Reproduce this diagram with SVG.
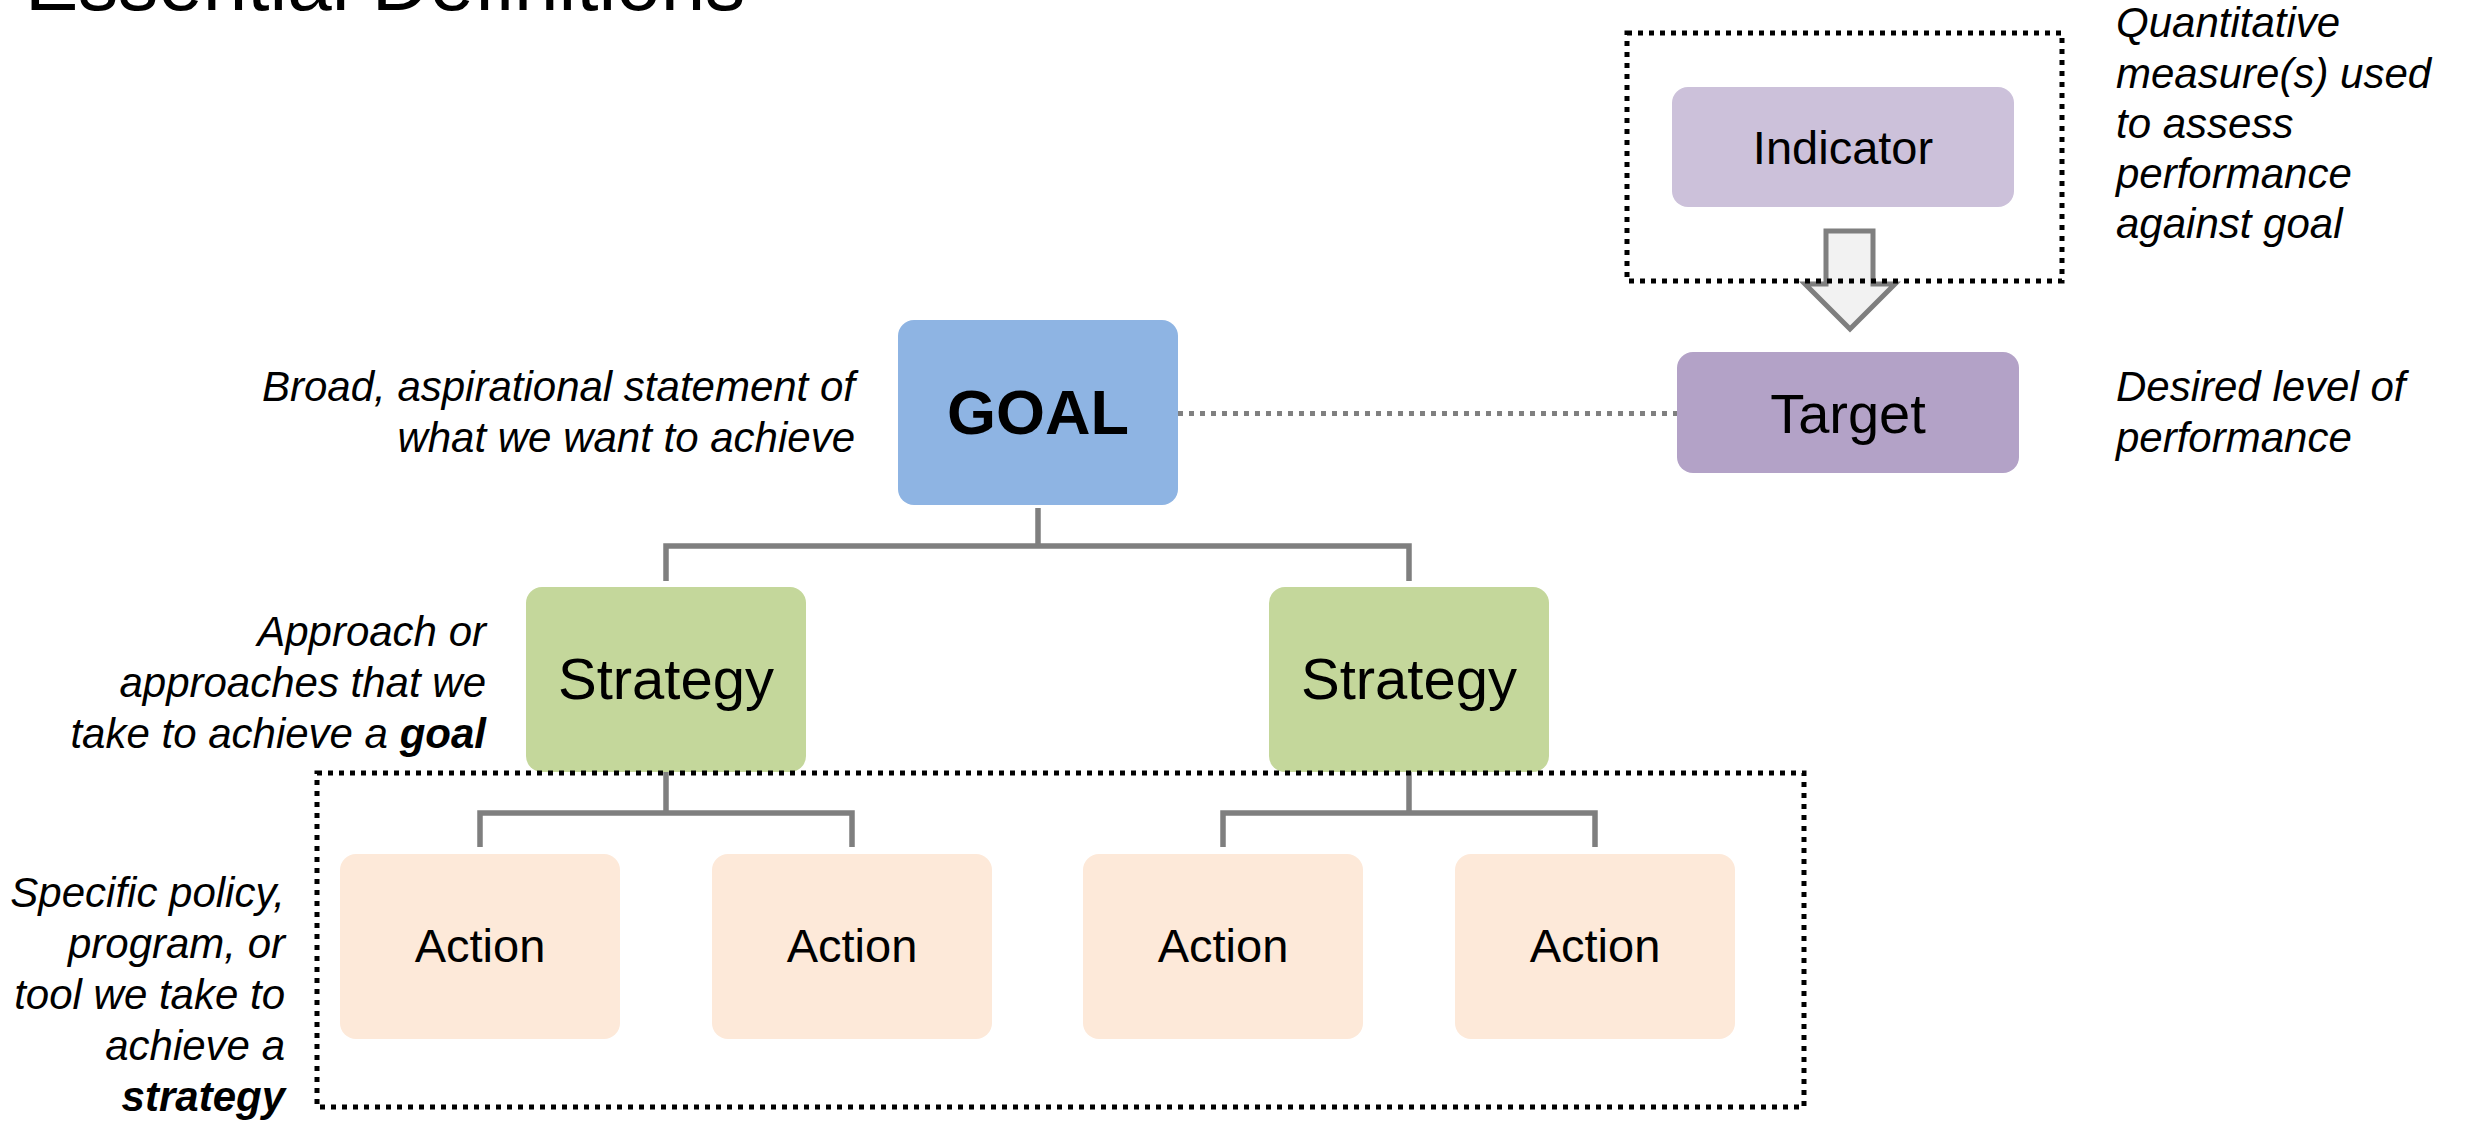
<svg xmlns="http://www.w3.org/2000/svg" width="2469" height="1121" viewBox="0 0 2469 1121">
<style>
text{font-family:"Liberation Sans",Arial,sans-serif;fill:#000}
.desc{font-size:42px;font-style:italic}
.lbl{text-anchor:middle}
.conn{fill:none;stroke:#7F7F7F;stroke-width:5.5}
.dotbox{fill:none;stroke:#000;stroke-width:5;stroke-dasharray:5 6}
</style>
<rect width="2469" height="1121" fill="#fff"/>
<text x="25" y="10" font-size="80">Essential Definitions</text>

<g id="connectors">
<path class="conn" d="M1038,508 V546 M666,581 V546 H1409 V581"/>
<path class="conn" d="M666,772 V813 M480,847 V813 H852 V847"/>
<path class="conn" d="M1409,772 V813 M1223,847 V813 H1595 V847"/>
<line x1="1178" y1="413.5" x2="1677" y2="413.5" stroke="#808080" stroke-width="5" stroke-dasharray="5 6"/>
<path d="M1826,231 H1873 V284 H1895 L1850,329 L1805,284 H1826 Z" fill="#F2F2F2" stroke="#7F7F7F" stroke-width="5"/>
</g>

<g id="goal">
<rect x="898" y="320" width="280" height="185" rx="16" fill="#8EB4E3"/>
<text class="lbl" x="1038" y="434" font-size="63" font-weight="bold">GOAL</text>
</g>
<g id="goal-desc">
<text class="desc" text-anchor="end" x="855" y="401">Broad, aspirational statement of</text>
<text class="desc" text-anchor="end" x="855" y="452">what we want to achieve</text>
</g>

<g id="indicator">
<rect x="1672" y="87" width="342" height="120" rx="16" fill="#CCC1DA"/>
<text class="lbl" x="1843" y="164" font-size="47">Indicator</text>
</g>
<g id="indicator-desc">
<text class="desc" x="2116" y="37">Quantitative</text>
<text class="desc" x="2116" y="87.5">measure(s) used</text>
<text class="desc" x="2116" y="138">to assess</text>
<text class="desc" x="2116" y="188">performance</text>
<text class="desc" x="2116" y="238">against goal</text>
</g>

<g id="target">
<rect x="1677" y="352" width="342" height="121" rx="16" fill="#B3A2C7"/>
<text class="lbl" x="1848" y="433" font-size="56">Target</text>
</g>
<g id="target-desc">
<text class="desc" x="2116" y="401">Desired level of</text>
<text class="desc" x="2116" y="452">performance</text>
</g>

<g id="strategy1">
<rect x="526" y="587" width="280" height="185" rx="16" fill="#C4D79B"/>
<text class="lbl" x="666" y="699" font-size="58">Strategy</text>
</g>
<g id="strategy2">
<rect x="1269" y="587" width="280" height="185" rx="16" fill="#C4D79B"/>
<text class="lbl" x="1409" y="699" font-size="58">Strategy</text>
</g>
<g id="strategy-desc">
<text class="desc" text-anchor="end" x="486" y="646">Approach or</text>
<text class="desc" text-anchor="end" x="486" y="697">approaches that we</text>
<text class="desc" text-anchor="end" x="486" y="748">take to achieve a <tspan font-weight="bold">goal</tspan></text>
</g>

<g id="action1">
<rect x="340" y="854" width="280" height="185" rx="16" fill="#FDE9D9"/>
<text class="lbl" x="480" y="962" font-size="47">Action</text>
</g>
<g id="action2">
<rect x="712" y="854" width="280" height="185" rx="16" fill="#FDE9D9"/>
<text class="lbl" x="852" y="962" font-size="47">Action</text>
</g>
<g id="action3">
<rect x="1083" y="854" width="280" height="185" rx="16" fill="#FDE9D9"/>
<text class="lbl" x="1223" y="962" font-size="47">Action</text>
</g>
<g id="action4">
<rect x="1455" y="854" width="280" height="185" rx="16" fill="#FDE9D9"/>
<text class="lbl" x="1595" y="962" font-size="47">Action</text>
</g>
<g id="action-desc">
<text class="desc" text-anchor="end" x="285" y="907">Specific policy,</text>
<text class="desc" text-anchor="end" x="285" y="958">program, or</text>
<text class="desc" text-anchor="end" x="285" y="1009">tool we take to</text>
<text class="desc" text-anchor="end" x="285" y="1060">achieve a</text>
<text class="desc" text-anchor="end" x="285" y="1111" font-weight="bold">strategy</text>
</g>

<g id="groups">
<rect class="dotbox" x="1627" y="33" width="435" height="248"/>
<rect class="dotbox" x="317" y="773" width="1487" height="334"/>
</g>
</svg>
